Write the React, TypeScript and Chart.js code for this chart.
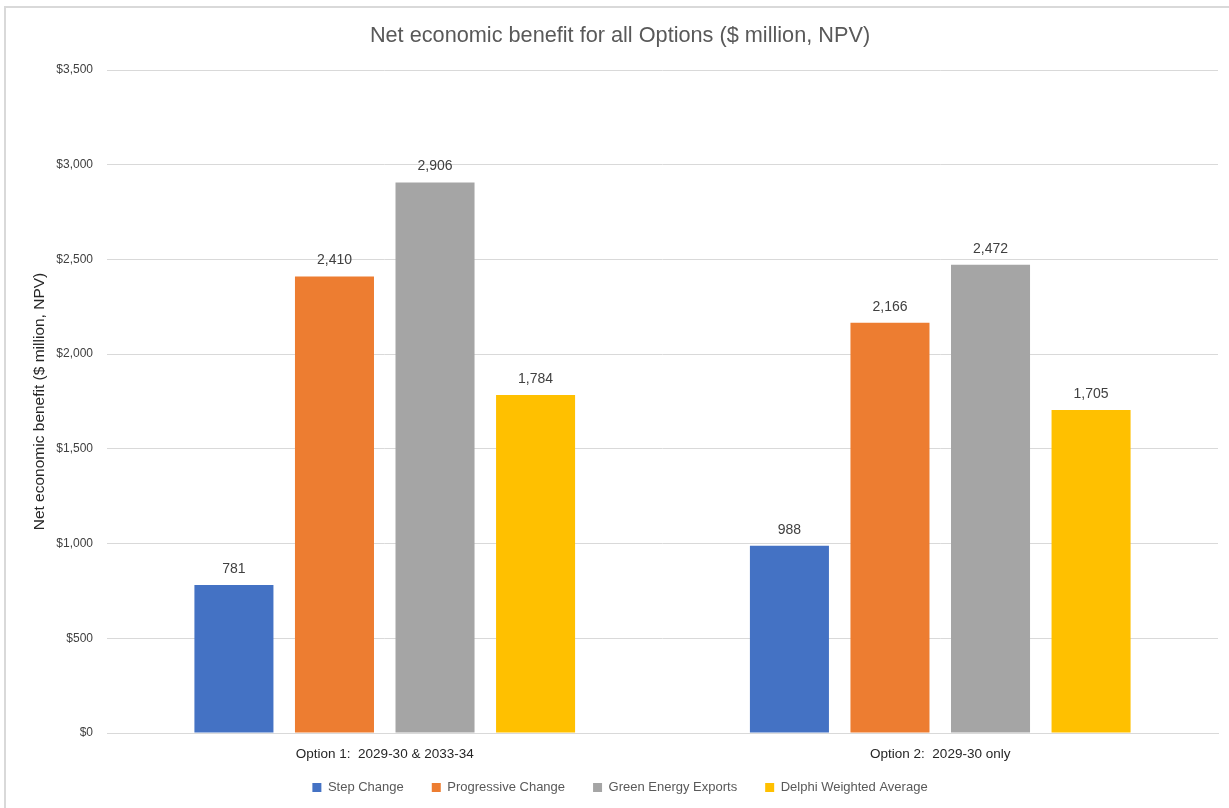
import React, { useEffect, useRef } from "react";
import { Chart, registerables } from "chart.js";

Chart.register(...registerables);

const categories = ["Option 1:  2029-30 & 2033-34", "Option 2:  2029-30 only"];
const seriesNames = ["Step Change", "Progressive Change", "Green Energy Exports", "Delphi Weighted Average"];
const stepChange = [781, 988];
const progressiveChange = [2410, 2166];
const greenEnergyExports = [2906, 2472];
const delphiWeightedAverage = [1784, 1705];
const seriesColors = ["#4472C4", "#ED7D31", "#A5A5A5", "#FFC000"];
const chartTitle = "Net economic benefit for all Options ($ million, NPV)";
const yAxisTitle = "Net economic benefit ($ million, NPV)";

const FONT = "'Liberation Sans', Arial, sans-serif";

const dataLabelPlugin = {
  id: "dataLabels",
  afterDatasetsDraw(chart: any) {
    const ctx = chart.ctx;
    ctx.save();
    ctx.font = `14px ${FONT}`;
    ctx.fillStyle = "#404040";
    ctx.textAlign = "center";
    ctx.textBaseline = "middle";
    chart.data.datasets.forEach((ds: any, i: number) => {
      const meta = chart.getDatasetMeta(i);
      meta.data.forEach((bar: any, j: number) => {
        const v = ds.data[j];
        ctx.fillText(v.toLocaleString("en-US"), bar.x, bar.y - 16);
      });
    });
    ctx.restore();
  },
};

const legendShiftPlugin = {
  id: "legendShift",
  afterLayout(chart: any) {
    const lg = chart.legend;
    if (lg) {
      lg.top -= 17;
      lg.height += 17;
    }
  },
};

export default function App() {
  const ref = useRef<HTMLCanvasElement>(null);
  useEffect(() => {
    if (!ref.current) return;
    const all = [stepChange, progressiveChange, greenEnergyExports, delphiWeightedAverage];
    const chart = new Chart(ref.current, {
      type: "bar",
      data: {
        labels: categories,
        datasets: all.map((d, i) => ({
          label: seriesNames[i],
          data: d,
          backgroundColor: seriesColors[i],
          borderWidth: 0,
          categoryPercentage: 0.724,
          barPercentage: 0.786,
        })),
      },
      options: {
        animation: false,
        responsive: false,
        maintainAspectRatio: false,
        layout: { padding: { left: 22, right: 11, top: 0, bottom: 0 } },
        plugins: {
          title: {
            display: true,
            text: chartTitle,
            color: "#595959",
            font: { family: FONT, size: 21.7, weight: "normal" },
            padding: { top: 23, bottom: 21 },
          },
          legend: {
            position: "bottom",
            maxHeight: 38,
            labels: {
              boxWidth: 9,
              boxHeight: 9,
              padding: 28,
              color: "#595959",
              font: { family: FONT, size: 13 },
            },
          },
          tooltip: { enabled: false },
        },
        scales: {
          x: {
            grid: { display: false, drawTicks: false },
            border: { color: "#D9D9D9", width: 1 },
            ticks: {
              color: "#262626",
              font: { family: FONT, size: 13.5 },
              padding: 13,
            },
            afterFit: (s: any) => {
              s.height = 37;
            },
          },
          y: {
            min: 0,
            max: 3500,
            grid: { color: "#D9D9D9", lineWidth: 1, drawTicks: false },
            border: { display: false },
            ticks: {
              stepSize: 500,
              color: "#404040",
              padding: 14,
              font: { family: FONT, size: 12 },
              callback: (v: any) => "$" + Number(v).toLocaleString("en-US"),
            },
            title: {
              display: true,
              text: yAxisTitle,
              color: "#262626",
              font: { family: FONT, size: 15.5 },
              padding: { top: 8, bottom: 0 },
            },
            afterFit: (s: any) => {
              s.width = 85;
            },
          },
        },
      },
      plugins: [dataLabelPlugin, legendShiftPlugin],
    });
    return () => chart.destroy();
  }, []);
  return (
    <div style={{ position: "fixed", left: 0, top: 0, width: 1229, height: 808, background: "#fff" }}>
      <div
        style={{
          position: "absolute",
          left: 4,
          top: 6,
          right: 0,
          bottom: 0,
          borderLeft: "2px solid #D9D9D9",
          borderTop: "2px solid #D9D9D9",
        }}
      />
      <canvas ref={ref} width={1229} height={808} style={{ position: "absolute", left: 0, top: 0 }} />
    </div>
  );
}
